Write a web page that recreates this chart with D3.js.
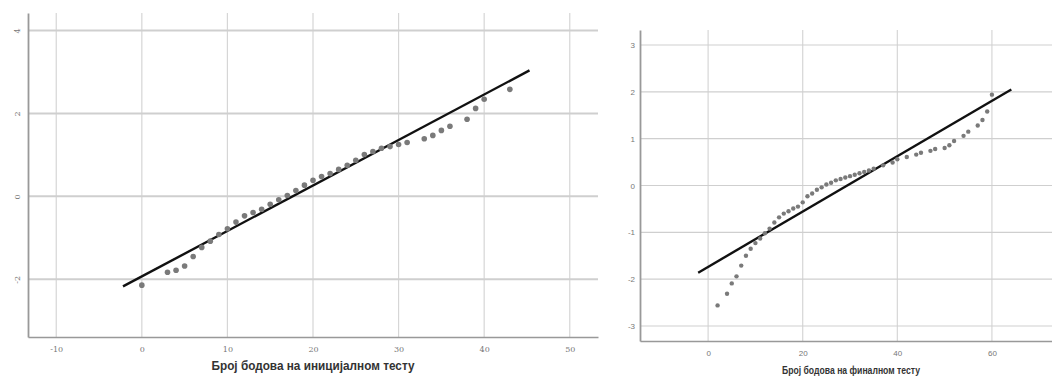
<!DOCTYPE html>
<html>
<head>
<meta charset="utf-8">
<script src="https://cdn.jsdelivr.net/npm/d3@7"></script>
<style>
  body { margin: 0; background: #fff; }
  svg { display: block; }
  .tick text { fill: #777; font-size: 8px; }
</style>
</head>
<body>
<svg id="chart" width="1052" height="377"></svg>
<script>
// left plot - initial test
var xTicksLeft = [-10, 0, 10, 20, 30, 40, 50];
var yTicksLeft = [-2, 0, 2, 4];
var scoresLeft = [0, 3, 4, 5, 6, 7, 8, 9, 10, 11, 12, 13, 14, 15, 16, 17, 18, 19, 20, 21, 22, 23, 24, 25, 26, 27, 28, 29, 30, 31, 33, 34, 35, 36, 38, 39, 40, 43];
var expectedLeft = [-2.14, -1.83, -1.78, -1.68, -1.45, -1.23, -1.08, -0.92, -0.78, -0.62, -0.47, -0.39, -0.31, -0.19, -0.08, 0.02, 0.14, 0.27, 0.39, 0.48, 0.55, 0.65, 0.75, 0.87, 1.01, 1.08, 1.16, 1.2, 1.25, 1.3, 1.39, 1.47, 1.59, 1.69, 1.86, 2.12, 2.34, 2.58];
var lineLeft = [-2.2, 45.3];
var meanLeft = 17.6, sdLeft = 9.12;

// right plot - final test
var xTicksRight = [0, 20, 40, 60];
var yTicksRight = [-3, -2, -1, 0, 1, 2, 3];
var scoresRight = [2, 4, 5, 6, 7, 8, 9, 10, 11, 12, 13, 14, 15, 16, 17, 18, 19, 20, 21, 22, 23, 24, 25, 26, 27, 28, 29, 30, 31, 32, 33, 34, 35, 37, 39, 40, 42, 44, 45, 47, 48, 50, 51, 52, 54, 55, 57, 58, 59, 60];
var expectedRight = [-2.56, -2.31, -2.09, -1.94, -1.71, -1.5, -1.35, -1.23, -1.13, -1.02, -0.92, -0.79, -0.68, -0.6, -0.55, -0.49, -0.45, -0.36, -0.23, -0.17, -0.09, -0.04, 0.02, 0.06, 0.11, 0.14, 0.17, 0.2, 0.23, 0.26, 0.29, 0.32, 0.36, 0.43, 0.49, 0.56, 0.61, 0.66, 0.7, 0.74, 0.78, 0.8, 0.86, 0.95, 1.06, 1.15, 1.28, 1.4, 1.58, 1.94];
var lineRight = [-2.1, 64.1];
var meanRight = 29.4, sdRight = 16.92;

var svg = d3.select("#chart");

function drawPlot(opt) {
  var x = d3.scaleLinear().domain(opt.xDomain).range([opt.left, opt.right]);
  var y = d3.scaleLinear().domain(opt.yDomain).range([opt.bottom, opt.top]);
  var g = svg.append("g");

  // grid
  g.selectAll(".vgrid")
    .data(opt.xTicks)
    .enter()
    .append("line")
      .attr("x1", d => x(d)).attr("x2", d => x(d))
      .attr("y1", opt.top).attr("y2", opt.bottom)
      .attr("stroke", "#d6d6d6")
      .attr("stroke-width", 1.2);
  g.selectAll(".hgrid")
    .data(opt.yTicks)
    .enter()
    .append("line")
      .attr("x1", opt.left).attr("x2", opt.right)
      .attr("y1", d => y(d)).attr("y2", d => y(d))
      .attr("stroke", "#cfcfcf")
      .attr("stroke-width", opt.hgridWidth);

  // axes
  var xAxis = g.append("g")
    .attr("transform", "translate(0," + opt.bottom + ")")
    .call(d3.axisBottom(x).tickValues(opt.xTicks).tickFormat(d => String(d)).tickSize(0).tickPadding(9));
  xAxis.select(".domain").attr("stroke", "#999").attr("stroke-width", 1.5);

  var yAxis = g.append("g")
    .attr("transform", "translate(" + opt.left + ",0)")
    .call(d3.axisLeft(y).tickValues(opt.yTicks).tickFormat(d => String(d)).tickSize(0).tickPadding(5));
  yAxis.select(".domain").attr("stroke", "#999").attr("stroke-width", 1.8);
  g.selectAll(".tick text").attr("font-family", opt.tickFont);
  if (opt.rotateY) {
    yAxis.selectAll(".tick text")
      .attr("text-anchor", "middle")
      .attr("x", 0).attr("dy", 0)
      .attr("transform", "translate(-8,0) rotate(-90)");
  }

  // reference line
  g.append("line")
    .attr("x1", x(opt.line[0]))
    .attr("y1", y((opt.line[0] - opt.mean) / opt.sd))
    .attr("x2", x(opt.line[1]))
    .attr("y2", y((opt.line[1] - opt.mean) / opt.sd))
    .attr("stroke", "#111")
    .attr("stroke-width", 2.4);

  // points
  g.selectAll(".pt")
    .data(opt.scores)
    .enter()
    .append("circle")
      .attr("cx", d => x(d))
      .attr("cy", (d, i) => y(opt.expected[i]))
      .attr("r", opt.r)
      .attr("fill", "#7a7a7a");

  g.append("text")
    .attr("x", opt.titleX)
    .attr("y", opt.titleY)
    .attr("text-anchor", "middle")
    .attr("font-family", "Liberation Sans, Arial, sans-serif")
    .attr("font-weight", "bold")
    .attr("font-size", opt.titleSize)
    .attr("fill", "#333")
    .attr("textLength", opt.titleLength)
    .attr("lengthAdjust", "spacingAndGlyphs")
    .text(opt.title);
}

drawPlot({
  left: 28, right: 598, top: 13, bottom: 337,
  xDomain: [-13.3, 53.3], yDomain: [-3.39, 4.42],
  xTicks: xTicksLeft, yTicks: yTicksLeft,
  scores: scoresLeft, expected: expectedLeft,
  line: lineLeft, mean: meanLeft, sd: sdLeft,
  r: 2.8, hgridWidth: 2, rotateY: true, tickFont: "DejaVu Serif, serif",
  title: "Број бодова на иницијалном тесту",
  titleX: 313, titleY: 370, titleSize: 12.5, titleLength: 203
});

drawPlot({
  left: 640, right: 1052, top: 30, bottom: 341,
  xDomain: [-14.4, 72.7], yDomain: [-3.32, 3.32],
  xTicks: xTicksRight, yTicks: yTicksRight,
  scores: scoresRight, expected: expectedRight,
  line: lineRight, mean: meanRight, sd: sdRight,
  r: 2.2, hgridWidth: 1.2, rotateY: false, tickFont: "Liberation Sans, Arial, sans-serif",
  title: "Број бодова на финалном тесту",
  titleX: 851, titleY: 374, titleSize: 10.5, titleLength: 138
});
</script>
</body>
</html>
